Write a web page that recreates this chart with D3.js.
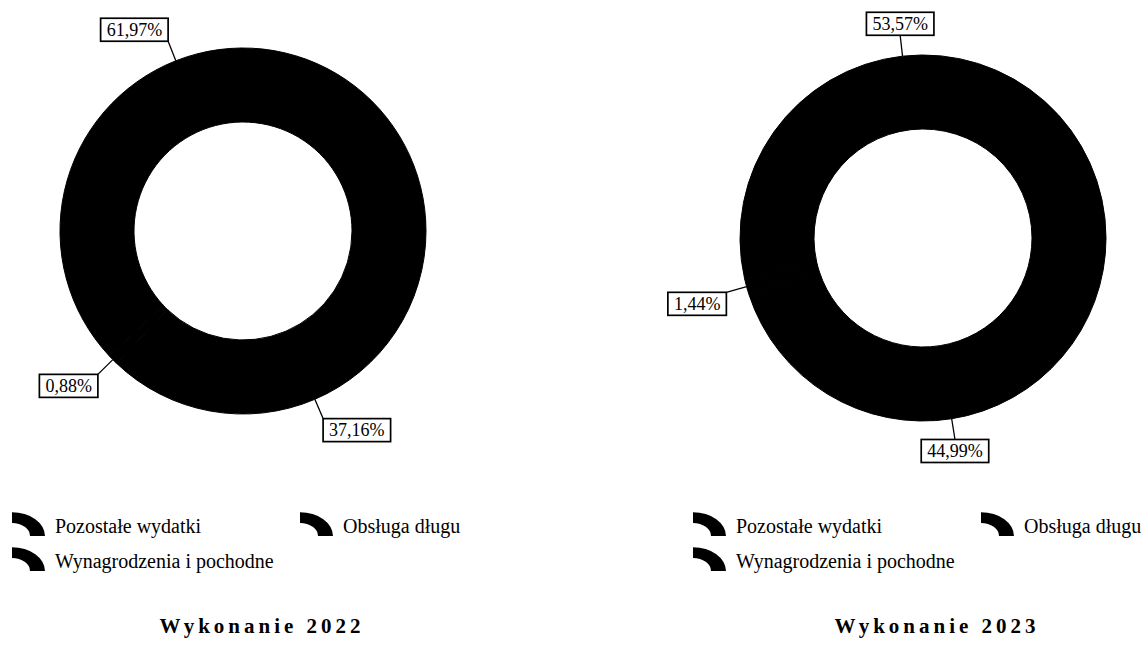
<!DOCTYPE html>
<meta charset="utf-8">
<style>
  body { margin: 0; background: #fff; }
  svg { font-family: "Liberation Serif", "Times New Roman", serif; }
</style>
<script src="https://d3js.org/d3.v7.min.js"></script>
<div id="my_dataviz"></div>
<script>

// data
var categories = ["Pozostałe wydatki", "Obsługa długu", "Wynagrodzenia i pochodne"]
var values2022 = [61.97, 0.88, 37.16]
var values2023 = [53.57, 1.44, 44.99]
var titles = ["Wykonanie 2022", "Wykonanie 2023"]

var width = 1144,
    height = 646,
    radius = 183,
    hole = 109

var svg = d3.select("#my_dataviz")
  .append("svg")
    .attr("width", width)
    .attr("height", height)

// slices go counter-clockwise from 3 o'clock
var pie = d3.pie()
  .sort(null)
  .value(function(d) { return d.value })
  .startAngle(Math.PI / 2)
  .endAngle(Math.PI / 2 - 2 * Math.PI)

var arc = d3.arc().innerRadius(hole).outerRadius(radius)
var edgeArc = d3.arc().innerRadius(radius).outerRadius(radius)
var labelArc = d3.arc().innerRadius(radius + 21).outerRadius(radius + 21)

var fmt = function(v) { return d3.format(".2f")(v).replace(".", ",") + "%" }

function drawDonut(values, title, cx, cy, legendX, titleX) {
  var data = categories.map(function(c, i) { return {key: c, value: values[i]} })
  var arcs = pie(data)

  var g = svg.append("g").attr("transform", "translate(" + cx + "," + cy + ")")

  g.selectAll("path")
    .data(arcs)
    .enter()
    .append("path")
      .attr("d", arc)
      .attr("fill", "#000")
      .attr("stroke", "#000")
      .attr("stroke-width", 1)

  // labels with leader lines
  arcs.forEach(function(d) {
    var p0 = edgeArc.centroid(d)
    var p1 = labelArc.centroid(d)
    var mid = (d.startAngle + d.endAngle) / 2
    var s = Math.sin(mid), c = Math.cos(mid)

    g.append("line")
      .attr("x1", p0[0]).attr("y1", p0[1])
      .attr("x2", p1[0]).attr("y2", p1[1])
      .attr("stroke", "#000")
      .attr("stroke-width", 1.3)

    var txt = g.append("text")
      .text(fmt(d.data.value))
      .style("font-size", "18px")
    var bb = txt.node().getBBox()
    var bw = bb.width + 12, bh = 23

    var bx = Math.abs(s) < 0.25 ? p1[0] - bw / 2 : (s > 0 ? p1[0] : p1[0] - bw)
    var by = c > 0 ? p1[1] - bh : p1[1]

    g.insert("rect", "text")
      .attr("x", bx).attr("y", by)
      .attr("width", bw).attr("height", bh)
      .attr("fill", "#fff")
      .attr("stroke", "#000")
      .attr("stroke-width", 1.7)

    txt.attr("x", bx + bw / 2)
      .attr("y", by + bh / 2 + 6)
      .attr("text-anchor", "middle")
  })

  // legend
  var icon = d3.arc().innerRadius(18).outerRadius(33).startAngle(0).endAngle(Math.PI / 2)
  var spots = [[0, 527], [288, 527], [0, 562]]
  categories.forEach(function(c, i) {
    var lx = legendX + spots[i][0], ly = spots[i][1]
    svg.append("path")
      .attr("d", icon())
      .attr("fill", "#000")
      .attr("transform", "translate(" + lx + "," + (ly + 9) + ") scale(1,0.72)")
    svg.append("text")
      .attr("x", lx + 43)
      .attr("y", ly + 6)
      .text(c)
      .style("font-size", "20px")
  })

  svg.append("text")
    .attr("x", titleX)
    .attr("y", 633)
    .attr("text-anchor", "middle")
    .text(title)
    .style("font-size", "21px")
    .style("font-weight", "bold")
    .style("letter-spacing", "4px")
}

drawDonut(values2022, titles[0], 243, 231, 12, 262)
drawDonut(values2023, titles[1], 923, 238, 693, 937)

</script>
